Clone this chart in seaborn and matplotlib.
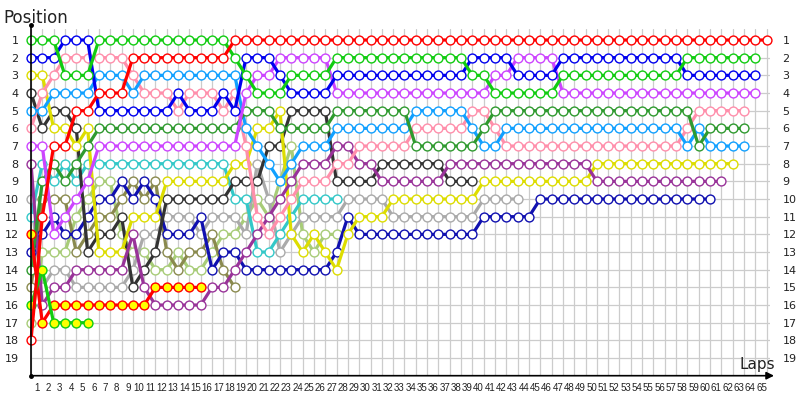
import pandas as pd
import matplotlib
matplotlib.use("Agg")
import matplotlib.pyplot as plt
import seaborn as sns

# race position of every car at the end of each lap (index 0 = grid)
red = [18, 11, 7, 7, 5, 5, 4, 4, 4, 2, 2, 2, 2, 2, 2, 2, 2, 2,
       1, 1, 1, 1, 1, 1, 1, 1, 1, 1, 1, 1, 1, 1, 1, 1, 1, 1, 1, 1, 1, 1, 1, 1,
       1, 1, 1, 1, 1, 1, 1, 1, 1, 1, 1, 1, 1, 1, 1, 1, 1, 1, 1, 1, 1, 1, 1, 1]
green = [1, 1, 1, 3, 3, 3, 1, 1, 1, 1, 1, 1, 1, 1, 1, 1, 1, 1, 2, 3, 4, 4, 4,
         3, 3, 3, 3, 2, 2, 2, 2, 2, 2, 2, 2, 2, 2, 2, 2, 3, 3, 4, 4, 4, 4, 4, 4,
         3, 3, 3, 3, 3, 3, 3, 3, 3, 3, 3, 2, 2, 2, 2, 2, 2, 2]
blue = [2, 2, 2, 1, 1, 1, 5, 5, 5, 5, 5, 5, 5, 4, 5, 5, 5, 4, 5, 2, 2, 2, 3,
        4, 4, 4, 4, 3, 3, 3, 3, 3, 3, 3, 3, 3, 3, 3, 3, 2, 2, 2, 2, 3, 3, 3, 3,
        2, 2, 2, 2, 2, 2, 2, 2, 2, 2, 2, 3, 3, 3, 3, 3, 3, 3]
pink = [6, 4, 3, 2, 2, 2, 2, 2, 2, 3, 4, 4, 4, 5, 4, 4, 4, 5, 4, 7, 11, 12, 11,
        10, 9, 9, 9, 8, 8, 7, 7, 7, 7, 7, 6, 6, 6, 6, 6, 5, 5, 6,
        7, 7, 7, 7, 7, 7, 7, 7, 7, 7, 7, 7, 7, 7, 7, 7, 6, 5, 5, 5, 5, 5]
light_blue = [5, 5, 4, 4, 4, 4, 3, 3, 3, 4, 3, 3, 3, 3, 3, 3, 3, 3, 3, 6, 7, 8, 9,
              8, 7, 7, 7, 6, 6, 6, 6, 6, 6, 6, 5, 5, 5, 5, 5, 6, 7, 7,
              6, 6, 6, 6, 6, 6, 6, 6, 6, 6, 6, 6, 6, 6, 6, 6, 7, 6, 7, 7, 7, 7]
dark_green = [14, 9, 8, 9, 8, 7, 6, 6, 6, 6, 6, 6, 6, 6, 6, 6, 6, 6, 6, 5, 5, 5,
              6, 6, 6, 6, 6, 5, 5, 5, 5, 5, 5, 5, 7, 7, 7, 7, 7, 7, 6,
              5, 5, 5, 5, 5, 5, 5, 5, 5, 5, 5, 5, 5, 5, 5, 5, 5, 5, 7, 6, 6, 6, 6]
violet = [7, 7, 12, 11, 10, 9, 7, 7, 7, 7, 7, 7, 7, 7, 7, 7, 7, 7, 7, 4, 3, 3,
          2, 2, 2, 2, 2, 4, 4, 4, 4, 4, 4, 4, 4, 4, 4, 4, 4, 4, 4, 3, 3, 2, 2, 2, 2,
          4, 4, 4, 4, 4, 4, 4, 4, 4, 4, 4, 4, 4, 4, 4, 4, 4, 4]
cyan = [11, 8, 9, 8, 9, 8, 8, 8, 8, 8, 8, 8, 8, 8, 8, 8, 8, 8,
        10, 10, 13, 13, 12, 11, 10, 10, 10, 10]
yellow = [3, 3, 6, 6, 7, 6, 13, 13, 13, 11, 11, 11, 9, 9, 9, 9, 9, 9, 8, 8, 6, 6,
          5, 12, 13, 12, 13, 14, 12, 11, 11, 11, 10, 10, 10, 10, 10, 10, 10, 10,
          9, 9, 9, 9, 9, 9, 9, 9, 9, 9, 8, 8, 8, 8, 8, 8, 8, 8, 8, 8, 8, 8, 8]
black = [4, 6, 5, 5, 6, 13, 12, 12, 11, 15, 14, 13, 10, 10, 10, 10, 10, 10, 9, 9,
         9, 7, 7, 5, 5, 5, 5, 9, 9, 9, 9, 8, 8, 8, 8, 8, 8, 9, 9, 9]
grey = [10, 15, 14, 14, 15, 15, 15, 15, 15, 14, 12, 12, 11, 11, 11, 12, 11, 11,
        11, 12, 8, 10, 13, 12, 11, 11, 11, 11, 10, 10, 10, 10,
        11, 11, 11, 11, 11, 11, 11, 11, 10, 10, 10, 10]
navy = [13, 12, 11, 12, 12, 11, 10, 10, 9, 10, 9, 10, 12, 12, 12, 11, 14, 13, 13,
        14, 14, 14, 14, 14, 14, 14, 14, 13, 11, 12, 12, 12, 12, 12, 12, 12, 12,
        12, 12, 12, 11, 11, 11, 11, 11, 10, 10, 10, 10, 10, 10, 10, 10, 10, 10,
        10, 10, 10, 10, 10, 10]
olive = [15, 10, 10, 10, 13, 12, 11, 11, 10, 9, 10, 9, 13, 14, 13, 13, 12, 14, 15]
light_green = [17, 13, 13, 13, 11, 10, 9, 9, 12, 13, 13, 14, 14, 13, 14, 14, 13,
               12, 12, 11, 10, 11, 9, 7, 12, 13, 12, 12]
purple = [8, 16, 15, 15, 14, 14, 14, 14, 14, 12, 15, 16, 16, 16, 16, 16, 15, 15,
          14, 13, 12, 11, 10, 9, 8, 8, 8, 7, 7, 8, 8, 9, 9, 9, 9, 9, 9,
          8, 8, 8, 8, 8, 8, 8, 8, 8, 8, 8, 8, 8, 9, 9, 9, 9, 9, 9, 9, 9, 9, 9, 9, 9]
red_yellow = [12, 17, 16, 16, 16, 16, 16, 16, 16, 16, 16, 15, 15, 15, 15, 15]
green_yellow = [16, 14, 17, 17, 17, 17]

cars = [
    ("light green", light_green, "#a8cc78", "white"),
    ("olive", olive, "#8a8a4e", "white"),
    ("grey", grey, "#aaaaaa", "white"),
    ("cyan", cyan, "#33c8c8", "white"),
    ("navy", navy, "#1010b0", "white"),
    ("black", black, "#333333", "white"),
    ("yellow", yellow, "#dddd00", "white"),
    ("purple", purple, "#993399", "white"),
    ("pink", pink, "#ff8fab", "white"),
    ("light blue", light_blue, "#11a0ff", "white"),
    ("dark green", dark_green, "#2f9a2f", "white"),
    ("violet", violet, "#cc44ff", "white"),
    ("blue", blue, "#0000ee", "white"),
    ("green", green, "#11cc11", "white"),
    ("red yellow", red_yellow, "#ff0000", "#ffff00"),
    ("green yellow", green_yellow, "#11cc11", "#ffff00"),
    ("red", red, "#ff0000", "white"),
]

sns.set_theme(style="white")
plt.rcParams["font.family"] = ["DejaVu Sans"]

fig = plt.figure(figsize=(8, 4), dpi=100)
ax = fig.add_axes([31 / 800, 1 - 375.7 / 400, 739 / 800, 346.3 / 400])

for name, pos, col, fill in cars:
    df = pd.DataFrame({"lap": range(len(pos)), "pos": pos})
    sns.lineplot(data=df, x="lap", y="pos", ax=ax, color=col, linewidth=2.3,
                 marker="o", markersize=6.4, markerfacecolor=fill,
                 markeredgecolor=col, markeredgewidth=1.0,
                 estimator=None, sort=False, clip_on=False)

ax.set_xlim(0, 65.3)
ax.set_ylim(20, 0.4)
ax.set_xlabel("")
ax.set_ylabel("")
for s in ax.spines.values():
    s.set_visible(False)

# grid on laps / positions, lap numbers sit between the grid lines
ax.set_xticks(range(0, 66))
ax.set_xticklabels([])
ax.set_xticks([l - 0.45 for l in range(1, 66)], minor=True)
ax.set_xticklabels([str(l) for l in range(1, 66)], minor=True, fontsize=7,
                   fontfamily="Liberation Sans", color="#222222")
ax.set_yticks(range(1, 20))
ax.set_yticklabels([str(p) for p in range(1, 20)], fontsize=8)
ax.grid(True, which="major", color="#cccccc", linewidth=0.9)
ax.set_axisbelow(True)
ax.tick_params(which="both", length=0)
ax.tick_params(axis="x", which="minor", pad=5)
ax.tick_params(axis="y", labelleft=True, labelright=True, pad=9)
for lbl in ax.get_yticklabels(which="both"):
    lbl.set_color("#222222")

# axes with arrow and end dots
ax.plot([0, 0], [20, 0.15], color="black", lw=1.2, clip_on=False, zorder=5)
ax.plot([0, 0], [0.15, 20], "o", color="black", ms=2.5, clip_on=False, zorder=5)
ax.annotate("", xy=(65.9, 20), xytext=(0, 20),
            arrowprops=dict(arrowstyle="-|>", color="black", lw=1.2, mutation_scale=11),
            annotation_clip=False, zorder=5)

fig.text(3 / 800, 1 - 23 / 400, "Position", fontsize=12, color="#222222", va="baseline")
fig.text(775 / 800, 1 - 369 / 400, "Laps", fontsize=11, color="#222222", ha="right", va="baseline")

fig.savefig("out.png", dpi=100)
plt.close(fig)
